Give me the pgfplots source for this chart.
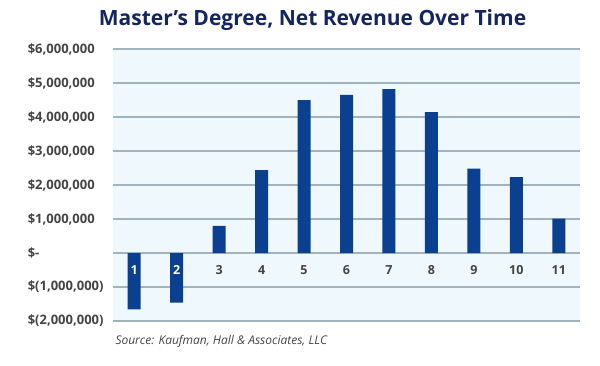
\documentclass[border=0pt]{standalone}
\usepackage{pgfplots}
\pgfplotsset{compat=1.18}
\usepackage{fontspec}
\setmainfont{Open Sans}
\definecolor{bgblue}{HTML}{EEF8FD}
\definecolor{gridc}{HTML}{A3B3BE}
\definecolor{barc}{HTML}{0B3F8F}
\definecolor{titlec}{HTML}{14255F}
\definecolor{labc}{HTML}{444444}
\begin{document}
\begin{tikzpicture}[x=1bp,y=1bp]
\useasboundingbox (0,0) rectangle (600,365);
\node[font=\fontsize{21bp}{25bp}\selectfont\bfseries, text=titlec] at (312.5,345) {Master’s Degree, Net Revenue Over Time};
\begin{axis}[
  at={(113bp,44bp)}, anchor=south west,
  scale only axis, width=467bp, height=272bp,
  xmin=0.5, xmax=11.5, ymin=-2000000, ymax=6000000,
  axis background/.style={fill=bgblue},
  axis line style={draw=none},
  major tick length=0pt,
  ymajorgrids, grid style={gridc, line width=1.5bp},
  scaled y ticks=false,
  ytick={-2000000,-1000000,0,1000000,2000000,3000000,4000000,5000000,6000000},
  yticklabels={{\$(2,000,000)},{\$(1,000,000)},{\$-},{\$1,000,000},{\$2,000,000},{\$3,000,000},{\$4,000,000},{\$5,000,000},{\$6,000,000}},
  yticklabel style={font=\fontsize{13bp}{15bp}\selectfont\bfseries, text=labc, anchor=east, text width=84bp, align=left, inner sep=0pt, xshift=-1bp},
  xtick={1,...,11},
  xticklabels={{},{},3,4,5,6,7,8,9,10,11},
  xticklabel style={font=\fontsize{12.5bp}{14bp}\selectfont\bfseries, text=labc, anchor=center, yshift=51bp},
]
\addplot[ybar, bar width=13bp, fill=barc, draw=none] coordinates {
(1,-1660000) (2,-1460000) (3,800000) (4,2440000) (5,4500000) (6,4650000) (7,4820000) (8,4140000) (9,2480000) (10,2230000) (11,1010000)
};
\node[font=\fontsize{12.5bp}{14bp}\selectfont\bfseries, text=white] at (axis cs:1,-500000) {1};
\node[font=\fontsize{12.5bp}{14bp}\selectfont\bfseries, text=white] at (axis cs:2,-500000) {2};
\end{axis}
\node[anchor=west, font=\fontsize{12bp}{14bp}\selectfont\itshape, text=labc] at (112,24) {Source: Kaufman, Hall \& Associates, LLC};
\end{tikzpicture}
\end{document}
